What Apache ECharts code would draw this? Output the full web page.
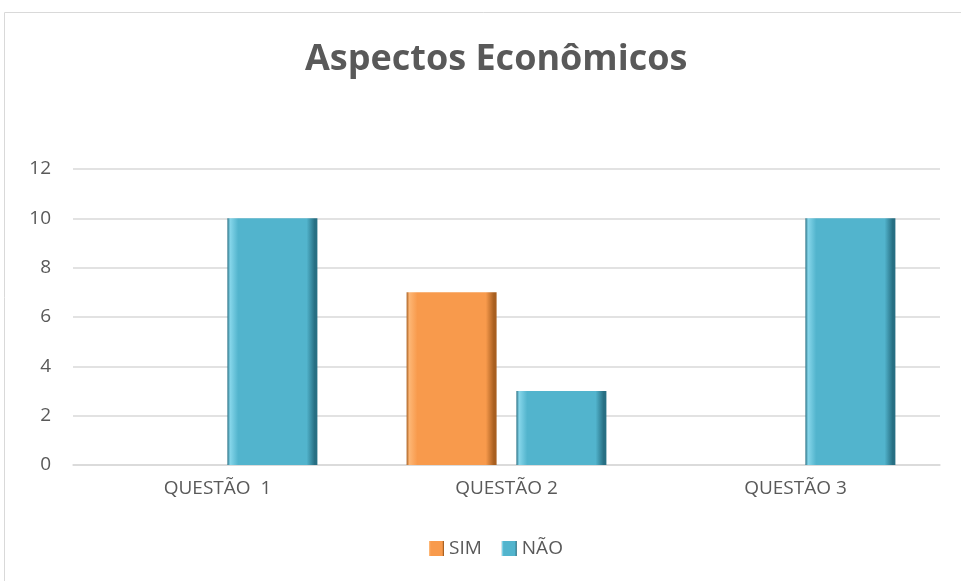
<!DOCTYPE html>
<html>
<head>
<meta charset="utf-8">
<script src="https://cdn.jsdelivr.net/npm/echarts@6/dist/echarts.min.js"></script>
<style>
  html, body { margin: 0; padding: 0; background: #fff; }
  #chart { width: 961px; height: 581px; }
</style>
</head>
<body>
<div id="chart"></div>
<script>
// dados do gráfico
const categorias = ['QUESTÃO  1', 'QUESTÃO 2', 'QUESTÃO 3'];
const simValores = [0, 7, 0];
const naoValores = [10, 3, 10];
const yTicks = [0, 2, 4, 6, 8, 10, 12];

const chart = echarts.init(document.getElementById('chart'));

// efeito "bisel" simples com gradiente horizontal
function bevel(light, mid, dark) {
    return new echarts.graphic.LinearGradient(0, 0, 1, 0, [
        { offset: 0, color: dark },
        { offset: 0.03, color: light },
        { offset: 0.12, color: mid },
        { offset: 0.88, color: mid },
        { offset: 0.97, color: dark },
        { offset: 1, color: dark }
    ]);
}

// valores zero não aparecem no original
const semZero = arr => arr.map(v => (v === 0 ? '-' : v));

const option = {
    animation: false,
    textStyle: { fontFamily: 'Open Sans, Noto Sans, sans-serif' },
    title: {
        text: 'Aspectos Econômicos',
        left: 300,
        top: 37,
        textStyle: { fontSize: 36, fontWeight: 'bold', color: '#595959' }
    },
    graphic: [{
        type: 'rect',
        shape: { x: 4.5, y: 12.5, width: 1000, height: 1000 },
        style: { fill: 'none', stroke: '#d9d9d9', lineWidth: 1 },
        silent: true
    }],
    legend: {
        bottom: 18,
        left: 424,
        itemWidth: 15,
        itemHeight: 15,
        itemGap: 20,
        textStyle: { fontSize: 19, color: '#595959' },
        data: [
            { name: 'SIM', icon: 'rect' },
            { name: 'NÃO', icon: 'rect' }
        ]
    },
    grid: { left: 73, right: 21, top: 169, bottom: 116 },
    xAxis: {
        type: 'category',
        data: categorias,
        axisLine: { lineStyle: { color: '#d9d9d9', width: 1.5 } },
        axisTick: { show: false },
        axisLabel: { fontSize: 19, color: '#595959', margin: 14 }
    },
    yAxis: {
        type: 'value',
        min: yTicks[0],
        max: yTicks[yTicks.length - 1],
        interval: 2,
        axisLine: { show: false },
        axisTick: { show: false },
        axisLabel: { fontSize: 19, color: '#595959', margin: 22 },
        splitLine: { lineStyle: { color: '#d9d9d9', width: 1.5 } }
    },
    series: [
        {
            name: 'SIM',
            type: 'bar',
            data: semZero(simValores),
            barWidth: 90,
            barGap: '22%',
            itemStyle: {
                color: bevel('#fdb675', '#f89a4c', '#a85f20')
            }
        },
        {
            name: 'NÃO',
            type: 'bar',
            data: naoValores,
            barWidth: 90,
            itemStyle: {
                color: bevel('#86d6ea', '#52b4cd', '#276f83')
            }
        }
    ]
};

chart.setOption(option);
</script>
</body>
</html>
